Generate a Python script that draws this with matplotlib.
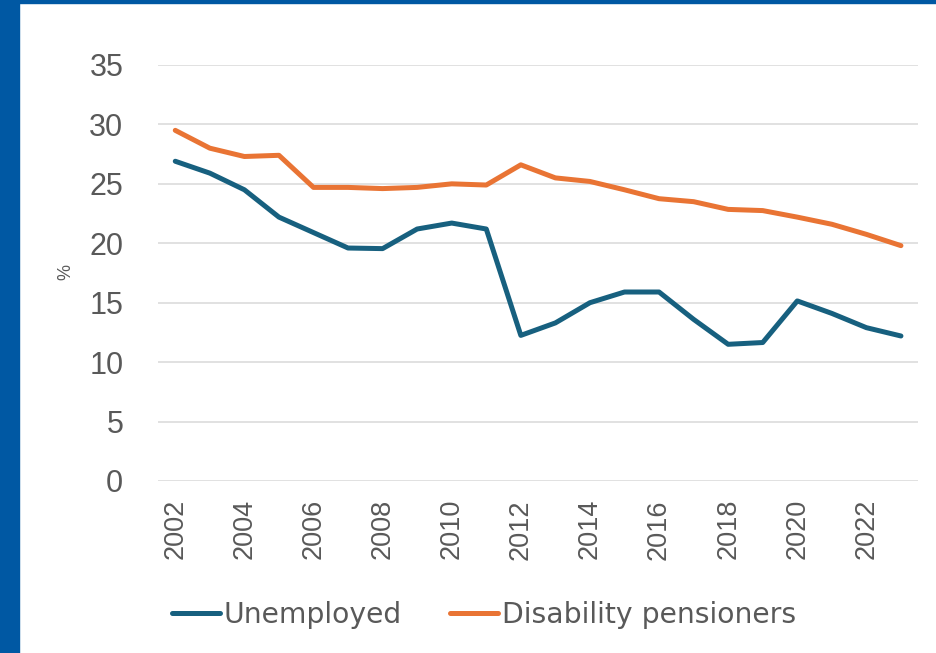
import matplotlib
matplotlib.use("Agg")
import matplotlib.pyplot as plt
from matplotlib.patches import Rectangle

years = list(range(2002, 2024))
unemployed = [26.9, 25.9, 24.5, 22.2, 20.9, 19.6, 19.55, 21.2, 21.7, 21.2, 12.25,
              13.3, 15.0, 15.9, 15.9, 13.6, 11.5, 11.65, 15.15, 14.1, 12.9, 12.2]
disability = [29.5, 28.0, 27.3, 27.4, 24.7, 24.7, 24.6, 24.7, 25.0, 24.9, 26.6,
              25.5, 25.2, 24.5, 23.75, 23.5, 22.85, 22.75, 22.2, 21.6, 20.75, 19.8]
xticks = list(range(2002, 2023, 2))
yticks = [0, 5, 10, 15, 20, 25, 30, 35]

grey = "#595959"
fig = plt.figure(figsize=(9.36, 6.53), dpi=100)
ax = fig.add_axes([0.1688, 0.2634, 0.981 - 0.1688, 0.9005 - 0.2634])

ax.plot(years, unemployed, color="#17607F", lw=3.6, solid_capstyle="round",
        solid_joinstyle="round", label="Unemployed", zorder=3)
ax.plot(years, disability, color="#E97434", lw=3.6, solid_capstyle="round",
        solid_joinstyle="round", label="Disability pensioners", zorder=3)

ax.set_xlim(2001.5, 2023.5)
ax.set_ylim(0, 35)
ax.set_yticks(yticks)
ax.set_xticks(xticks)
ax.grid(axis="y", color="#D9D9D9", lw=1.1)
ax.set_axisbelow(True)
for s in ax.spines.values():
    s.set_visible(False)
ax.tick_params(length=0)
ax.tick_params(axis="y", pad=25, labelsize=22, labelcolor=grey)
ax.tick_params(axis="x", pad=13, labelsize=19.5, labelcolor=grey, labelrotation=90)
for lab in ax.get_yticklabels() + ax.get_xticklabels():
    lab.set_family("Liberation Sans")

fig.text(0.0705, 0.583, "%", rotation=90, fontsize=13, color=grey,
         ha="center", va="center", family="Liberation Sans")

leg = fig.legend(loc="center", bbox_to_anchor=(0.517, 0.058), ncol=2, frameon=False,
                 handlelength=1.7, handletextpad=0.15, columnspacing=1.7,
                 prop={"family": "DejaVu Sans", "size": 20.3})
for t in leg.get_texts():
    t.set_color(grey)

# blue frame on left and top
fig.patches.append(Rectangle((0, 0), 19 / 936, 1, transform=fig.transFigure,
                             color="#0058A3", zorder=0))
fig.patches.append(Rectangle((0, 1 - 3 / 653), 1, 3 / 653, transform=fig.transFigure,
                             color="#0058A3", zorder=0))

fig.savefig("out.png", dpi=100)
